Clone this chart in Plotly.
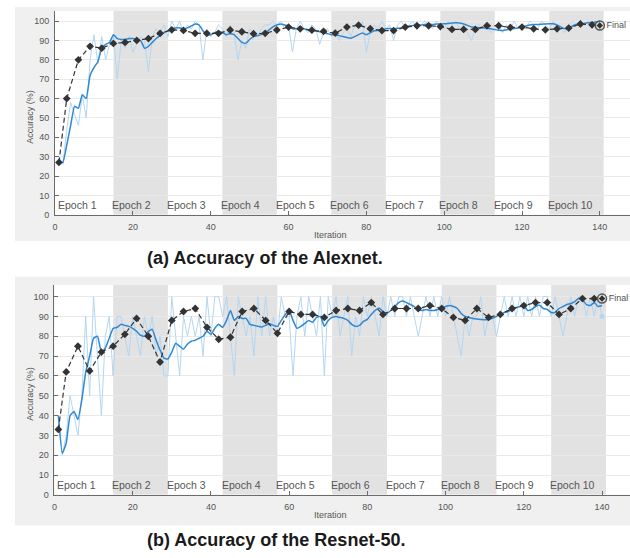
import plotly.graph_objects as go

W, H = 630, 558

# ---------------- data ----------------
ITERATIONS = list(range(1, 141))
VAL_ITERATIONS = [1] + list(range(3, 139, 3))
FINAL_ITERATION = 140
EPOCH_LABELS = ["Epoch %d" % k for k in range(1, 11)]
ITERS_PER_EPOCH = 14
X_TICKS = [0, 20, 40, 60, 80, 100, 120, 140]
Y_TICKS = [0, 10, 20, 30, 40, 50, 60, 70, 80, 90, 100]

# Alexnet: mini-batch accuracy, smoothed accuracy, validation accuracy
alex_raw = [
    30, 26, 44, 58, 52, 46, 62, 50, 80, 93, 78, 92, 80, 88,
    92, 70, 90, 86, 92, 84, 88, 92, 90, 74, 92, 96, 94, 98,
    92, 100, 96, 100, 94, 98, 96, 100, 98, 80, 96, 92, 94, 98,
    96, 92, 98, 94, 80, 90, 86, 96, 94, 92, 96, 98, 98, 100,
    98, 100, 96, 98, 84, 96, 100, 96, 94, 98, 96, 88, 94, 96,
    92, 94, 90, 94, 96, 92, 98, 96, 100, 84, 94, 98, 96, 100,
    96, 98, 90, 98, 100, 96, 98, 100, 96, 98, 100, 98, 96, 100,
    98, 96, 100, 98, 100, 96, 98, 94, 90, 96, 98, 96, 98, 94,
    96, 98, 94, 98, 96, 100, 96, 98, 96, 100, 98, 96, 100, 98,
    96, 100, 98, 96, 94, 98, 100, 98, 100, 98, 100, 96, 100, 98,
]
alex_smooth = [
    28, 27, 36, 46, 56, 55, 62, 60, 72, 76, 79, 86, 88, 89,
    93, 91, 90.5, 90.5, 91, 91, 90.5, 90, 86, 87, 89, 91, 92.5, 94,
    95, 96, 96.5, 96.5, 96, 96.5, 97.5, 98.5, 98, 95, 93, 93, 94, 94.5,
    94, 93, 93.5, 93, 91, 89, 88.5, 90.5, 92, 92.5, 93, 94, 95.5, 97,
    98, 98.5, 98, 97.5, 96, 96, 96, 96, 95.5, 95.5, 95, 94.5, 94, 93.5,
    93, 93, 92.5, 92, 91.5, 91.2, 92, 93, 93.8, 93, 94, 95, 95.2, 95.5,
    96, 96.2, 96, 96.3, 96.5, 97, 97.5, 97.8, 98, 98, 98.3, 98.5, 98.3, 98.5,
    98.5, 98.6, 98.8, 99, 99.1, 99, 98.5, 97.8, 97, 96.8, 96.5, 96.5, 96.4, 96,
    95.6, 95.3, 95.1, 95.5, 95.8, 96.2, 96.5, 97, 97.5, 98, 98.3, 98.2, 98.4, 98.5,
    98.6, 98.6, 98, 97, 96, 96.5, 97.5, 98.2, 98.6, 98.8, 99.2, 99.3, 99.6, 99.8,
]
alex_val = [
    27, 60, 80, 87, 86, 88.5, 89, 90, 91, 93.7,
    95.5, 95.2, 93.7, 93.7, 93.7, 95.4, 94.5, 93.5, 93.7, 95.4,
    96.9, 96, 95.3, 94.7, 93.8, 96.9, 97.9, 96.1, 95.1, 95.1,
    96.9, 97.6, 97.6, 97.2, 95.7, 95.7, 95.7, 97.6, 97.6, 96.7,
    96.9, 96, 95.5, 96, 96.4, 98.5, 98.1,
]
alex_final = 97.7

# Resnet-50
res_raw = [
    40, 20, 30, 50, 40, 30, 50, 90, 50, 100, 70, 40, 80, 90,
    60, 90, 90, 80, 70, 90, 80, 70, 90, 80, 90, 70, 80, 60,
    60, 100, 80, 60, 90, 80, 90, 80, 90, 70, 100, 80, 100, 100,
    90, 100, 80, 60, 100, 90, 80, 90, 70, 100, 80, 100, 80, 90,
    80, 100, 90, 90, 60, 90, 100, 80, 100, 90, 80, 100, 60, 100,
    90, 100, 80, 90, 100, 70, 90, 80, 100, 90, 100, 90, 80, 100,
    90, 100, 90, 100, 100, 90, 100, 90, 80, 90, 100, 90, 100, 90,
    100, 90, 100, 90, 80, 70, 90, 80, 90, 90, 100, 80, 90, 90,
    80, 90, 100, 90, 100, 90, 100, 90, 100, 90, 100, 90, 100, 100,
    90, 100, 90, 80, 90, 100, 90, 100, 100, 90, 100, 90, 100, 90,
]
res_smooth = [
    40, 21, 26, 40, 42, 38, 48, 62, 70, 79, 80, 72, 74, 79,
    84, 84.5, 86, 85.5, 85, 84, 82.5, 80.5, 80, 82.5, 83.5, 78, 73, 69,
    68.5, 72, 76.5, 75, 73.5, 76, 77.5, 78, 79, 80, 82.5, 81, 84, 86,
    84.5, 88, 93, 88, 90, 89, 89, 86, 85.5, 85, 84.7, 85.5, 86.3, 85.5,
    85, 88, 91, 93, 88, 84, 85, 86.5, 88, 87, 89.5, 90, 85, 88,
    89.5, 90, 89.5, 89, 88, 86, 85, 85.5, 87.5, 88.5, 91, 93, 94.3, 92.5,
    91.5, 93, 95, 97, 97.8, 97, 96, 95, 93.5, 93, 93.5, 93, 93, 93.5,
    94.5, 95, 95.5, 95, 94, 91.5, 90, 89.5, 89, 88.7, 88.5, 88.3, 88.5, 89,
    90, 91, 92, 92.5, 93.5, 94.3, 95, 95.5, 93, 93.5, 95, 95.7, 94, 93.5,
    92, 92, 94, 95, 96, 96.5, 97.5, 99, 98.5, 96, 95.5, 97, 95, 95.5,
]
res_val = [
    33, 62, 75, 62.5, 72, 75, 81, 89, 80, 67,
    88, 92.5, 94, 84.5, 78.5, 79.5, 92.5, 94, 88, 81.5,
    92.5, 91, 91, 89.5, 93, 94, 93, 97, 91, 94,
    94, 94, 95.5, 94, 89.5, 88, 94, 89.5, 91, 94,
    95.5, 97, 97, 91, 94, 99, 99,
]
res_final = 99

CAPTIONS = ["(a) Accuracy of the Alexnet.", "(b) Accuracy of the Resnet-50."]

# ---------------- styling ----------------
RAW_COLOR = "#b3d6f2"
SMOOTH_COLOR = "#2f88d4"
VAL_COLOR = "#333333"
PANEL_GRAY = "#f0f0f0"
BAND_GRAY = "#e2e2e2"
GRID_COLOR = "#e9e9e9"
AXIS_COLOR = "#6b6b6b"
TEXT_GRAY = "#555555"
FONT = "Liberation Sans, Arial, sans-serif"


def px_x(p):
    return p / W


def px_y(p):
    return 1 - p / H


# pixel geometry of the two panels
panels = [
    dict(ptop=7, pbot=243.3, top=11, zero=216.7, x0=52.3, sx=3.91, cap=260),
    dict(ptop=279, pbot=530, top=287.7, zero=499.3, x0=51.7, sx=3.93, cap=545),
]
panels[0]["sy"] = (panels[0]["zero"] - 21.3) / 100
panels[1]["sy"] = (panels[1]["zero"] - 299.3) / 100

series = [
    (alex_raw, alex_smooth, alex_val, alex_final),
    (res_raw, res_smooth, res_val, res_final),
]

fig = go.Figure()
shapes, annotations = [], []
layout_axes = {}

for i, (pn, (raw, smooth, val, final)) in enumerate(zip(panels, series)):
    xa = "x" if i == 0 else "x%d" % (i + 1)
    ya = "y" if i == 0 else "y%d" % (i + 1)
    xmax = (W - pn["x0"]) / pn["sx"]
    ymax = (pn["zero"] - pn["top"]) / pn["sy"]

    layout_axes["xaxis" if i == 0 else "xaxis%d" % (i + 1)] = dict(
        domain=[px_x(pn["x0"]), 1], range=[0, xmax], anchor=ya,
        tickvals=X_TICKS, ticks="inside", ticklen=4, tickcolor=AXIS_COLOR,
        showline=True, linecolor=AXIS_COLOR, linewidth=1,
        showgrid=False, zeroline=False, ticklabelstandoff=3,
        tickfont=dict(family=FONT, size=9, color=TEXT_GRAY),
    )
    layout_axes["yaxis" if i == 0 else "yaxis%d" % (i + 1)] = dict(
        domain=[px_y(pn["zero"]), px_y(pn["top"])], range=[0, ymax], anchor=xa,
        tickvals=Y_TICKS, ticks="inside", ticklen=4, tickcolor=AXIS_COLOR,
        showline=True, linecolor=AXIS_COLOR, linewidth=1,
        showgrid=True, gridcolor=GRID_COLOR, gridwidth=1, zeroline=False,
        ticklabelstandoff=3,
        tickfont=dict(family=FONT, size=9, color=TEXT_GRAY),
    )

    # grey figure panel and white axes area
    shapes.append(dict(type="rect", xref="paper", yref="paper",
                       x0=px_x(12), x1=1, y0=px_y(pn["pbot"]), y1=px_y(pn["ptop"]),
                       fillcolor=PANEL_GRAY, line=dict(width=0), layer="below"))
    shapes.append(dict(type="rect", xref="paper", yref="paper",
                       x0=px_x(pn["x0"]), x1=1, y0=px_y(pn["zero"]), y1=px_y(pn["top"]),
                       fillcolor="white", line=dict(width=0), layer="below"))

    # epoch bands and labels
    for k, lab in enumerate(EPOCH_LABELS):
        start = ITERS_PER_EPOCH * k + 1
        if k % 2 == 1:
            shapes.append(dict(type="rect", xref=xa, yref=ya,
                               x0=start, x1=start + ITERS_PER_EPOCH, y0=0, y1=ymax,
                               fillcolor=BAND_GRAY, line=dict(width=0), layer="below"))
        annotations.append(dict(xref=xa, yref=ya, x=start, y=5, text=lab,
                                showarrow=False, xanchor="left", yanchor="middle",
                                xshift=-3, font=dict(family=FONT, size=10.5, color=TEXT_GRAY)))

    fig.add_trace(go.Scatter(x=ITERATIONS, y=raw, mode="lines", xaxis=xa, yaxis=ya,
                             line=dict(color=RAW_COLOR, width=1), hoverinfo="skip"))
    fig.add_trace(go.Scatter(x=ITERATIONS, y=smooth, mode="lines", xaxis=xa, yaxis=ya,
                             line=dict(color=SMOOTH_COLOR, width=1.5, shape="spline", smoothing=0.4),
                             hoverinfo="skip"))
    fig.add_trace(go.Scatter(x=VAL_ITERATIONS, y=val, mode="lines+markers", xaxis=xa, yaxis=ya,
                             line=dict(color=VAL_COLOR, width=1.2, dash="5px,3px"),
                             marker=dict(symbol="diamond", size=6, color=VAL_COLOR),
                             hoverinfo="skip"))
    # final validation point
    fig.add_trace(go.Scatter(x=[FINAL_ITERATION], y=[final], mode="markers+text", xaxis=xa, yaxis=ya,
                             marker=dict(symbol="circle-open", size=9, color="#555555",
                                         line=dict(width=1.5, color="#555555")),
                             text=["Final"], textposition="middle right",
                             textfont=dict(family=FONT, size=9, color=TEXT_GRAY),
                             hoverinfo="skip"))
    fig.add_trace(go.Scatter(x=[FINAL_ITERATION], y=[final], mode="markers", xaxis=xa, yaxis=ya,
                             marker=dict(symbol="diamond", size=5, color=VAL_COLOR),
                             hoverinfo="skip"))

    # axis titles
    mid = (pn["zero"] + pn["top"]) / 2 + 4
    annotations.append(dict(xref="paper", yref="paper", x=px_x(27), y=px_y(mid),
                            text="Accuracy (%)", textangle=-90, showarrow=False,
                            xanchor="center", yanchor="middle",
                            font=dict(family=FONT, size=9, color=TEXT_GRAY)))
    annotations.append(dict(xref="paper", yref="paper", x=px_x(329), y=px_y(pn["zero"] + 20),
                            text="Iteration", showarrow=False,
                            xanchor="center", yanchor="middle",
                            font=dict(family=FONT, size=9, color=TEXT_GRAY)))
    # caption
    annotations.append(dict(xref="paper", yref="paper", x=px_x(143), y=px_y(pn["cap"]),
                            text="<b>%s</b>" % CAPTIONS[i], showarrow=False,
                            xanchor="left", yanchor="middle",
                            font=dict(family=FONT, size=18, color="#1a1a1a")))

# light-blue end point of the Resnet-50 mini-batch curve
fig.add_trace(go.Scatter(x=[ITERATIONS[-1]], y=[res_raw[-1]], mode="markers", xaxis="x2", yaxis="y2",
                         marker=dict(size=5, color=RAW_COLOR), hoverinfo="skip"))

fig.update_layout(
    width=W, height=H,
    margin=dict(l=0, r=0, t=0, b=0),
    paper_bgcolor="white", plot_bgcolor="rgba(0,0,0,0)",
    showlegend=False, hovermode=False,
    shapes=shapes, annotations=annotations,
    **layout_axes,
)

fig.write_html("out.html")
